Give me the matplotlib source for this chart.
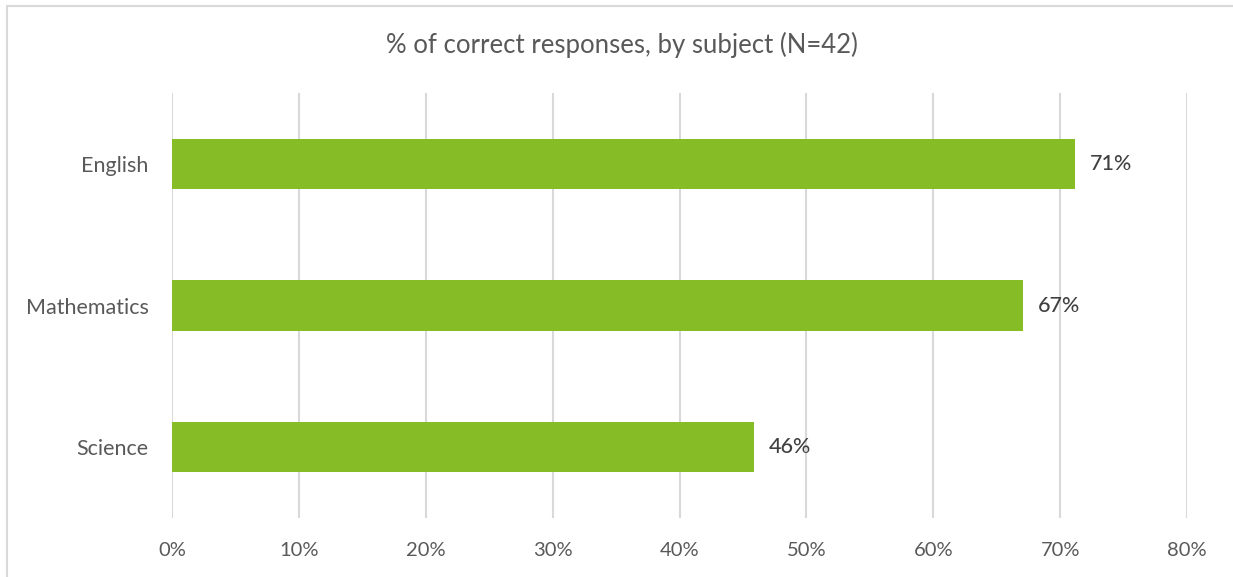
import matplotlib.pyplot as plt
from matplotlib.patches import Rectangle
from matplotlib.ticker import FuncFormatter

plt.rcParams['font.family'] = ['Lato', 'DejaVu Sans']

# data
subjects = ['English', 'Mathematics', 'Science']
pct_correct = [71.2, 67.1, 45.9]
labels = ['71%', '67%', '46%']
x_ticks = [0, 10, 20, 30, 40, 50, 60, 70, 80]

bar_color = '#86BC25'
grid_color = '#D9D9D9'
text_color = '#595959'

fig = plt.figure(figsize=(12.33, 5.77), dpi=100)
ax = fig.add_axes([172 / 1233, 1 - 518 / 577, (1187 - 172) / 1233, (518 - 93) / 577])

y_pos = list(range(len(subjects)))[::-1]
ax.barh(y_pos, pct_correct, height=0.355, color=bar_color, zorder=3)

# data labels
for y, v, lab in zip(y_pos, pct_correct, labels):
    ax.text(v + 1.15, y, lab, va='center', ha='left', fontsize=15.5,
            color='#404040', fontweight='medium', zorder=4)

ax.set_xlim(0, 80)
ax.set_ylim(-0.5, 2.5)
ax.set_xticks(x_ticks)
ax.xaxis.set_major_formatter(FuncFormatter(lambda v, p: '%d%%' % v))
ax.set_yticks(y_pos)
ax.set_yticklabels(subjects)
ax.tick_params(axis='both', length=0, colors=text_color)
ax.tick_params(axis='x', pad=17, labelsize=14.5)
ax.tick_params(axis='y', pad=17, labelsize=15.5)

ax.grid(axis='x', color=grid_color, linewidth=1.5, zorder=0)
for s in ax.spines.values():
    s.set_visible(False)

fig.text(622 / 1233, 1 - 45 / 577, '% of correct responses, by subject (N=42)',
         ha='center', va='center', fontsize=18.5, color=text_color)

# chart border (cut off on the right and bottom)
fig.patches.append(Rectangle((6.5 / 1233, -0.05), 1.1, 1.05 - 5.5 / 577,
                             transform=fig.transFigure, fill=False,
                             edgecolor=grid_color, linewidth=1.5))

fig.savefig('out.png', dpi=100)
